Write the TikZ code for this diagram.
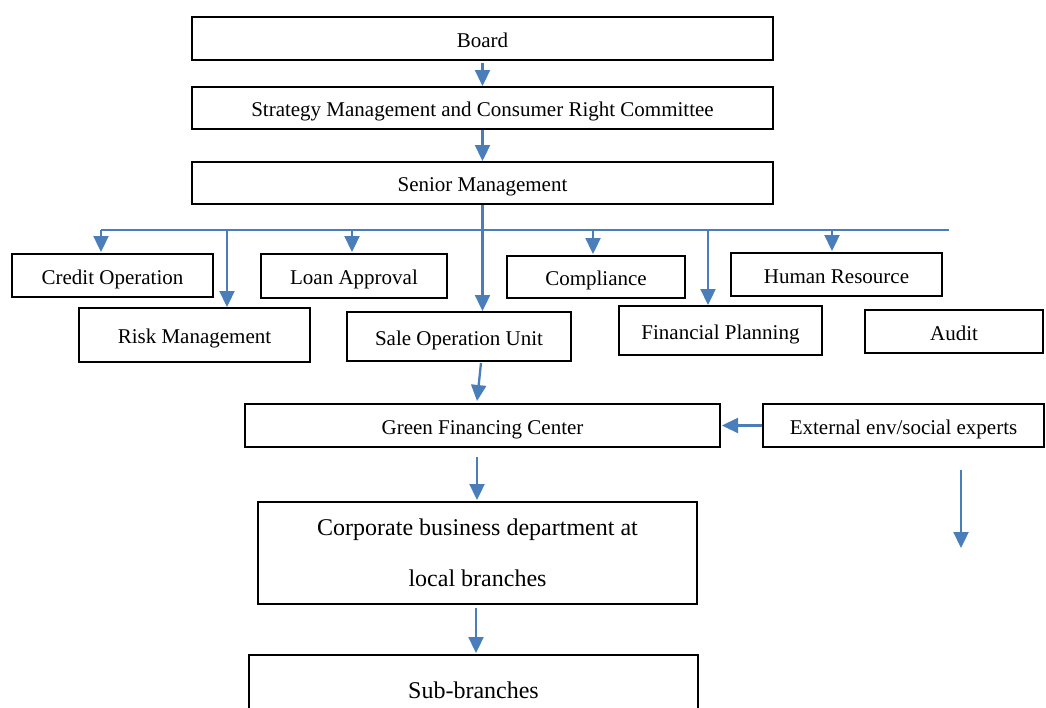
\documentclass[tikz,border=0pt]{standalone}
\usepackage{fontspec}
\setmainfont{Liberation Serif}
\usetikzlibrary{arrows.meta,calc}
\definecolor{linkblue}{RGB}{74,126,187}
\begin{document}
\begin{tikzpicture}[x=1pt,y=-1pt,
  box/.style={draw=black,line width=2pt,fill=white,inner sep=0pt},
  unit/.style={box,text height=17pt,text depth=0pt,
    font=\fontsize{21}{25}\selectfont},
  bigunit/.style={box,font=\fontsize{24}{51}\selectfont,align=center},
  link/.style={draw=linkblue,line width=2.3pt},
  arr/.style={link,-{Triangle[width=15pt,length=16pt]}}]
\useasboundingbox (0,0) rectangle (1046,707);
\clip (0,0) rectangle (1046,707);

% top of the hierarchy
\node[unit,minimum width=581pt,minimum height=43pt] (board) at (482.5,38.5) {Board};
\node[unit,minimum width=581pt,minimum height=42pt] (strategy) at (482.5,108) {Strategy Management and Consumer Right Committee};
\node[unit,minimum width=581pt,minimum height=42pt] (senior) at (482.5,183) {Senior Management};

% departments, upper row
\node[unit,minimum width=201pt,minimum height=43pt] (credit) at (112.5,275.5) {Credit Operation};
\node[unit,minimum width=186pt,minimum height=44pt] (loan) at (354,276) {Loan Approval};
\node[unit,minimum width=178pt,minimum height=42pt] (compliance) at (596,277) {Compliance};
\node[unit,minimum width=211pt,minimum height=43pt] (hr) at (836.5,274.5) {Human Resource};

% departments, lower row
\node[unit,minimum width=231pt,minimum height=54pt] (risk) at (194.5,335) {Risk Management};
\node[unit,minimum width=224pt,minimum height=49pt] (sale) at (459,336.5) {Sale Operation Unit};
\node[unit,minimum width=203pt,minimum height=49pt] (finplan) at (720.5,330.5) {Financial Planning};
\node[unit,minimum width=178pt,minimum height=43pt] (audit) at (954,331.5) {Audit};

% green financing
\node[unit,minimum width=475pt,minimum height=43pt] (green) at (482.5,425.5) {Green Financing Center};
\node[unit,minimum width=281pt,minimum height=43pt] (external) at (903.5,425.5) {External env/social experts};
\node[bigunit,minimum width=439pt,minimum height=102pt] (corp) at (477.5,553) {Corporate business department at\\local branches};
\node[bigunit,minimum width=449pt,minimum height=70pt] (sub) at (473.5,690) {Sub-branches};

% vertical chain
\draw[arr] ($(board.south)+(0,2)$) -- (strategy.north);
\draw[arr] (strategy.south) -- (senior.north);
\draw[arr] (senior.south) -- (senior.south |- sale.north);

% distribution bus
\coordinate (busL) at (101,230);
\coordinate (busR) at (949,230);
\draw[link] (busL) -- (busR);
\coordinate (b1) at (101,230);
\coordinate (b2) at (227,230);
\coordinate (b3) at (352,230);
\coordinate (b4) at (593,230);
\coordinate (b5) at (708,230);
\coordinate (b6) at (832,230);
\draw[arr] (b1) -- ($(b1 |- credit.north)+(0,-1)$);
\draw[arr] (b2) -- (b2 |- risk.north);
\draw[arr] (b3) -- ($(b3 |- loan.north)+(0,-1)$);
\draw[arr] (b4) -- ($(b4 |- compliance.north)+(0,-1)$);
\draw[arr] (b5) -- (b5 |- finplan.north);
\draw[arr] (b6) -- ($(b6 |- hr.north)+(0,-1)$);

% lower chain
\draw[arr] ($(sale.south)+(22,1)$) -- ($(green.north)+(-5.5,-2)$);
\draw[arr] (external.west) -- ($(green.east)+(1,0)$);
\draw[arr] ($(green.south)+(-5.5,9)$) -- ($(corp.north)+(-0.5,-1)$);
\draw[arr] ($(corp.south)+(-1.5,3)$) -- ($(sub.north)+(2.5,-1)$);

% loose arrow under the experts
\coordinate (f1) at (961,470);
\coordinate (f2) at (961,548);
\draw[arr] (f1) -- (f2);
\end{tikzpicture}
\end{document}
